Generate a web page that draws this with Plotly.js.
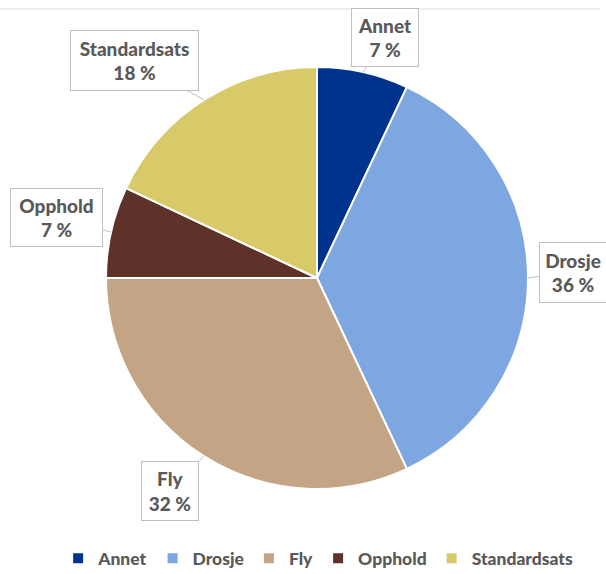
<!DOCTYPE html>
<html>
<head>
<meta charset="utf-8">
<script src="https://cdn.plot.ly/plotly-3.0.1.min.js"></script>
<style>html,body{margin:0;padding:0;background:#fff;}#chart{width:606px;height:574px;}</style>
</head>
<body>
<div id="chart"></div>
<script>
var categories = ["Annet", "Drosje", "Fly", "Opphold", "Standardsats"];
var shares = [7, 36, 32, 7, 18];
var sliceColors = ["#00338D", "#7EA6E0", "#C3A586", "#5E3229", "#D8CA68"];

var W = 606, H = 574;
var cx = 317, cy = 278, R = 211;
// box offsets (pixels) from the label tip to the box centre, and box sizes
var boxOffsets = [[22, -35], [45, -6], [-34, 35], [-55, -14], [-69, -39]];
var boxSizes = [[64, 55], [64, 57], [54, 56], [89, 55], [125, 57]];

var total = shares.reduce(function(a, b){ return a + b; }, 0);
var annotations = [];
var cum = 0;
for (var i = 0; i < categories.length; i++) {
  var mid = (cum + shares[i] / 2) / total * 2 * Math.PI;
  cum += shares[i];
  var tx = cx + R * Math.sin(mid);
  var ty = cy - R * Math.cos(mid);
  annotations.push({
    xref: "paper", yref: "paper",
    x: tx / W, y: 1 - ty / H,
    ax: boxOffsets[i][0], ay: boxOffsets[i][1],
    text: categories[i] + "<br>" + Math.round(shares[i] / total * 100) + " %",
    showarrow: true, arrowhead: 0, arrowwidth: 1, arrowcolor: "#BFBFBF",
    bordercolor: "#BFBFBF", borderwidth: 1, bgcolor: "#FFFFFF",
    width: boxSizes[i][0], height: boxSizes[i][1],
    font: {family: "Lato, 'Open Sans', sans-serif", size: 19, color: "#595959", weight: 900}
  });
}

var trace = {
  type: "pie",
  labels: categories,
  values: shares,
  sort: false,
  direction: "clockwise",
  rotation: 0,
  textinfo: "none",
  hoverinfo: "label+percent",
  marker: {colors: sliceColors, line: {color: "#FFFFFF", width: 2}},
  domain: {x: [(cx - R) / W, (cx + R) / W], y: [1 - (cy + R) / H, 1 - (cy - R) / H]}
};

var layout = {
  width: W, height: H,
  margin: {l: 0, r: 0, t: 0, b: 0, autoexpand: false},
  paper_bgcolor: "#FFFFFF",
  showlegend: true,
  legend: {
    orientation: "h", x: 0.525, xanchor: "center", y: -0.004, yanchor: "bottom",
    traceorder: "normal", itemwidth: 30,
    font: {family: "Lato, 'Open Sans', sans-serif", size: 17.5, color: "#595959", weight: 900}
  },
  annotations: annotations,
  shapes: [{type: "line", xref: "paper", yref: "paper", x0: 0, x1: 600 / W, y0: 1 - 9 / H, y1: 1 - 9 / H,
            line: {color: "#D9D9D9", width: 1}}]
};

Plotly.newPlot("chart", [trace], layout, {displayModeBar: false, staticPlot: true});
</script>
</body>
</html>
